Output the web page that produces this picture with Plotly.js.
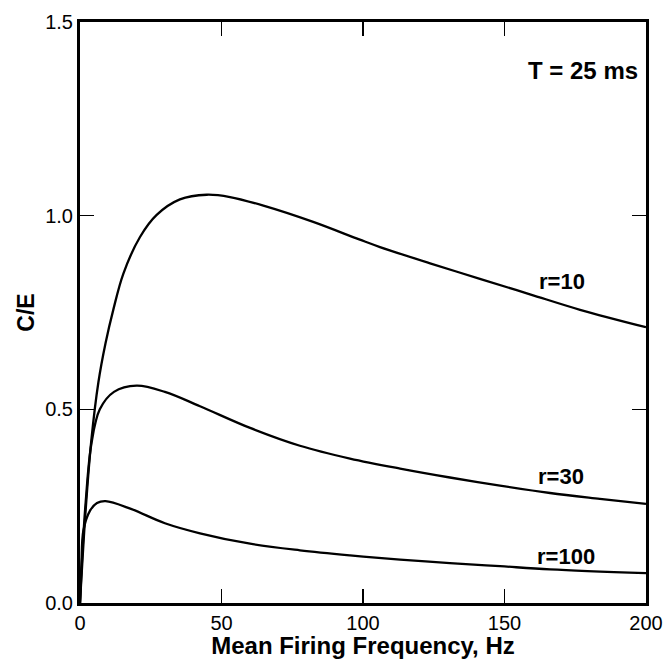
<!DOCTYPE html>
<html>
<head>
<meta charset="utf-8">
<script src="https://cdn.plot.ly/plotly-3.0.1.min.js"></script>
<style>html,body{margin:0;padding:0;background:#fff;}#chart{width:665px;height:659px;}</style>
</head>
<body>
<div id="chart"></div>
<script>
var freqR10 = [0, 2, 4, 6.5, 9, 11.8, 15.3, 21.2, 27.1, 35.3, 44.8, 53, 64.8, 82.4, 98.9, 106, 123.7, 141.3, 159, 176.7, 200];
var ceR10   = [0, 0.24, 0.42, 0.57, 0.67, 0.758, 0.85, 0.945, 1.002, 1.042, 1.054, 1.048, 1.026, 0.984, 0.938, 0.919, 0.877, 0.837, 0.797, 0.757, 0.712];
var freqR30 = [0, 1, 2, 4, 7, 12, 20, 30, 42.4, 60.1, 77.7, 95.4, 113.1, 130.7, 148.4, 166.1, 183.7, 200];
var ceR30   = [0, 0.15, 0.26, 0.41, 0.50, 0.545, 0.561, 0.545, 0.508, 0.452, 0.406, 0.373, 0.347, 0.324, 0.303, 0.284, 0.269, 0.256];
var freqR100 = [0, 0.5, 1.2, 3.5, 6, 9, 18, 30, 42.4, 60.1, 77.7, 95.4, 113.1, 130.7, 148.4, 166.1, 200];
var ceR100   = [0, 0.10, 0.187, 0.238, 0.258, 0.263, 0.243, 0.206, 0.180, 0.153, 0.136, 0.123, 0.112, 0.103, 0.095, 0.087, 0.077];
var curveLabels = ["r=10", "r=30", "r=100"];
var labelX = [170.3, 170, 171.7];
var labelY = [0.83, 0.326, 0.121];
var xTicks = [0, 50, 100, 150, 200];
var yTicks = [0, 0.5, 1.0, 1.5];

var lineStyle = {color: '#000', width: 2.3, shape: 'spline', smoothing: 1};
var traces = [
  {x: freqR10, y: ceR10, mode: 'lines', line: lineStyle, hoverinfo: 'none'},
  {x: freqR30, y: ceR30, mode: 'lines', line: lineStyle, hoverinfo: 'none'},
  {x: freqR100, y: ceR100, mode: 'lines', line: lineStyle, hoverinfo: 'none'}
];

var fam = 'Liberation Sans, Arial, sans-serif';
var annotations = curveLabels.map(function(t, i){
  return {x: labelX[i], y: labelY[i], xref: 'x', yref: 'y', text: t, showarrow: false,
          font: {family: fam, size: 22, color: '#000', weight: 'bold'}};
});
annotations.push({x: 198, y: 1.375, xref: 'x', yref: 'y', text: 'T = 25 ms', showarrow: false,
  xanchor: 'right', font: {family: fam, size: 24, color: '#000', weight: 'bold'}});

var axisCommon = {
  showline: true, linewidth: 3, linecolor: '#000', mirror: 'ticks',
  ticks: 'inside', ticklen: 14, tickwidth: 1.5, tickcolor: '#000',
  showgrid: false, zeroline: false,
  tickfont: {family: fam, size: 20, color: '#000'}
};

var layout = {
  width: 665, height: 659,
  margin: {l: 80, r: 19, t: 22, b: 56},
  paper_bgcolor: '#fff', plot_bgcolor: '#fff',
  showlegend: false,
  xaxis: Object.assign({}, axisCommon, {
    range: [0, 200], tickvals: xTicks, ticktext: xTicks.map(String),
    title: {text: 'Mean Firing Frequency, Hz', standoff: 4,
            font: {family: fam, size: 24, color: '#000', weight: 'bold'}}
  }),
  yaxis: Object.assign({}, axisCommon, {
    range: [0, 1.5], tickvals: yTicks, tickformat: '.1f',
    title: {text: 'C/E', standoff: 5,
            font: {family: fam, size: 23, color: '#000', weight: 'bold'}}
  }),
  annotations: annotations
};

Plotly.newPlot('chart', traces, layout, {displayModeBar: false, staticPlot: true});
</script>
</body>
</html>
